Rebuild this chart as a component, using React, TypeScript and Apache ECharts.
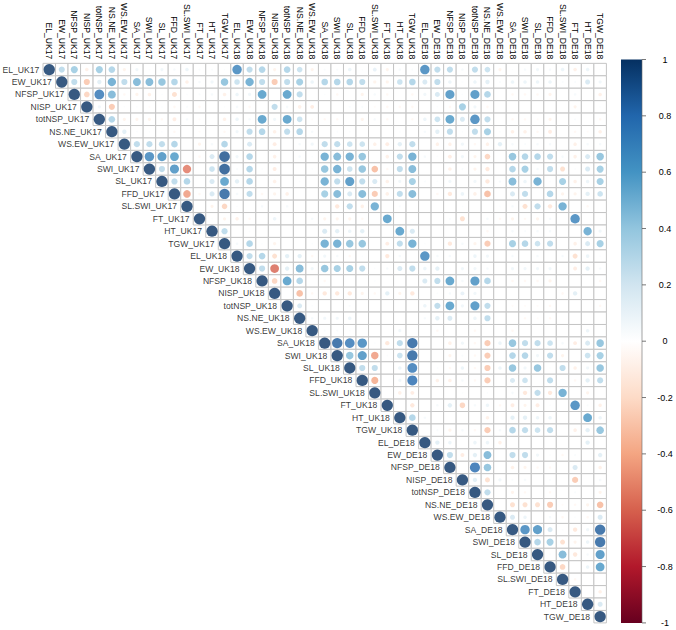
import React, { useEffect, useRef } from "react";
import * as echarts from "echarts";

const variables = [
  "EL_UK17", "EW_UK17", "NFSP_UK17", "NISP_UK17", "totNSP_UK17", "NS.NE_UK17", "WS.EW_UK17",
  "SA_UK17", "SWI_UK17", "SL_UK17", "FFD_UK17", "SL.SWI_UK17", "FT_UK17", "HT_UK17", "TGW_UK17",
  "EL_UK18", "EW_UK18", "NFSP_UK18", "NISP_UK18", "totNSP_UK18", "NS.NE_UK18", "WS.EW_UK18",
  "SA_UK18", "SWI_UK18", "SL_UK18", "FFD_UK18", "SL.SWI_UK18", "FT_UK18", "HT_UK18", "TGW_UK18",
  "EL_DE18", "EW_DE18", "NFSP_DE18", "NISP_DE18", "totNSP_DE18", "NS.NE_DE18", "WS.EW_DE18",
  "SA_DE18", "SWI_DE18", "SL_DE18", "FFD_DE18", "SL.SWI_DE18", "FT_DE18", "HT_DE18", "TGW_DE18",
];

// Upper-triangle correlations: row i lists r(i, j) for j = i+1 .. 44
const rowsUK17: number[][] = [
  [0.3, 0.4, -0.1, 0.4, 0.35, -0.08, 0.08, 0.02, 0.08, 0.05, 0.1, 0.03, 0.03, 0.02,
   0.7, 0.3, 0.35, -0.08, 0.35, 0.25, -0.08, 0.03, 0.03, 0.1, 0.02, 0.12, -0.08, 0.05, 0.03,
   0.7, 0.3, 0.3, 0.05, 0.3, 0.25, -0.08, 0.02, 0.05, 0.08, 0.05, 0.1, -0.1, 0.1, 0.02],
  [0.3, -0.3, 0.15, 0.55, 0.3, 0.5, 0.5, 0.45, 0.35, -0.1, 0.05, 0.08, 0.45,
   0.25, 0.55, 0.3, -0.3, 0.3, 0.4, 0.1, 0.35, 0.35, 0.35, 0.3, -0.08, -0.08, 0.25, 0.35,
   0.2, 0.3, 0.1, 0.02, 0.1, 0.15, 0.03, 0.1, 0.1, 0.1, 0.1, 0.03, 0.03, 0.2, 0.08],
  [-0.25, 0.75, 0.5, -0.05, -0.08, -0.1, 0.02, -0.2, 0.02, 0.03, 0.05, -0.1,
   0.1, 0.08, 0.6, 0, 0.6, 0.3, 0, 0.02, -0.05, 0, -0.08, 0.05, -0.05, 0, -0.05,
   0.08, 0.2, 0.65, 0.02, 0.65, 0.35, 0, -0.05, -0.05, -0.05, -0.08, 0, 0.05, 0, -0.1],
  [0.08, -0.3, 0.02, 0.02, -0.03, 0.02, -0.05, 0.03, -0.05, 0, 0.02,
   0.05, -0.05, 0, 0.3, 0.05, -0.1, -0.12, 0, 0, 0.03, 0.03, -0.03, -0.05, -0.05, -0.05,
   0, 0.02, -0.05, 0.4, 0.08, -0.05, 0, 0, 0, 0, 0, 0, -0.08, 0, 0.02],
  [0.35, -0.08, -0.08, -0.08, -0.05, -0.12, 0.05, -0.03, 0, -0.1,
   0.1, 0.05, 0.6, 0.08, 0.6, 0.25, -0.03, -0.05, -0.05, 0, -0.08, 0.05, -0.05, 0, -0.05,
   0.1, 0.25, 0.6, 0.2, 0.7, 0.3, 0, -0.05, -0.05, -0.03, -0.08, 0, 0.03, 0, -0.05],
  [0.15, 0.02, 0.02, 0.02, -0.05, 0, -0.03, 0, -0.05,
   0.08, 0.3, 0.35, -0.1, 0.3, 0.35, 0.05, 0, 0.02, 0.02, 0, 0, 0, 0.02, 0,
   0.05, 0.15, 0.3, 0.02, 0.3, 0.4, 0.02, -0.1, -0.1, -0.05, -0.12, 0, -0.05, -0.03, -0.1],
  [0.3, 0.3, 0.3, 0.35, 0, -0.08, 0.05, 0.35,
   0, 0.2, 0, -0.12, 0, 0.05, 0.08, 0.3, 0.3, 0.25, 0.25, -0.1, -0.12, 0.15, 0.3,
   0, -0.1, -0.1, 0.08, -0.05, -0.1, 0.15, 0.05, 0.03, 0.05, 0.05, 0, -0.1, 0.05, 0.05],
  [0.7, 0.65, 0.6, 0, -0.05, 0.2, 0.9,
   0.08, 0.35, 0, -0.1, 0, 0.05, 0.02, 0.55, 0.5, 0.55, 0.45, 0, -0.1, 0.3, 0.55,
   0.05, 0.02, -0.12, 0.08, -0.08, -0.25, 0, 0.45, 0.35, 0.35, 0.3, 0.05, -0.1, 0.2, 0.45],
  [0.3, 0.65, -0.55, 0, 0.25, 0.9,
   0.03, 0.35, 0.02, -0.12, 0, 0, 0.02, 0.45, 0.55, 0.25, 0.45, -0.35, -0.05, 0.3, 0.5,
   0, 0, -0.1, 0.03, -0.08, -0.15, 0, 0.35, 0.4, 0.05, 0.3, -0.2, 0.02, 0.2, 0.4],
  [0.3, 0.35, 0, 0.2, 0.6,
   0.15, 0.35, 0, -0.1, 0, 0.02, 0, 0.55, 0.3, 0.65, 0.3, 0.2, -0.1, 0.08, 0.4,
   0.03, 0.02, 0.08, 0, 0.08, -0.15, 0.05, 0.5, 0.1, 0.55, 0.02, 0.4, -0.1, 0.1, 0.4],
  [-0.45, -0.05, 0.2, 0.85,
   0.05, 0.3, -0.05, -0.08, -0.1, 0, 0, 0.4, 0.5, 0.2, 0.5, -0.3, -0.1, 0.3, 0.5,
   0, -0.05, -0.15, 0.1, -0.1, -0.35, 0, 0.2, 0.3, 0, 0.35, -0.08, -0.08, 0.15, 0.25],
  [0, -0.08, -0.25,
   0.02, 0, 0.05, 0, 0.05, 0, 0, 0, -0.15, 0.3, -0.1, 0.55, 0, 0.03, 0,
   0, 0, 0, 0.02, 0, 0, 0.02, 0.05, -0.2, 0.3, -0.15, 0.55, 0, -0.05, 0],
  [0.02, -0.08,
   -0.1, -0.05, 0, 0.1, 0, 0, 0.05, -0.08, -0.08, -0.08, -0.05, 0, 0.6, 0, 0,
   0, 0, 0.03, -0.2, 0, 0.05, -0.05, -0.08, -0.05, -0.08, 0.05, 0, 0.7, 0, 0.02],
  [0.3,
   0, 0.02, 0, 0, 0, 0, 0, 0.2, 0.15, 0.1, 0.15, 0, 0, 0.6, 0.2,
   0, 0, 0, 0, 0, -0.05, 0, 0.05, 0.03, 0.05, 0.05, 0, 0, 0.55, 0.08],
  [0.05, 0.35, 0.02, -0.08, 0, 0, 0.02, 0.55, 0.55, 0.45, 0.45, 0, -0.12, 0.3, 0.55,
   0.02, 0, -0.15, 0.05, -0.08, -0.3, 0, 0.4, 0.35, 0.25, 0.3, 0, -0.1, 0.2, 0.4],
];

const rowsUK18: number[][] = [
  [0.3, 0.35, -0.2, 0.15, 0.15, -0.05, 0.08, 0.05, -0.05, 0.02, 0, -0.15, 0.05, 0,
   0.7, 0.05, 0.05, 0, 0.1, 0.08, 0, 0.05, 0, 0.05, 0, 0.05, -0.2, 0.1, 0.02],
  [0.3, -0.6, 0.15, 0.5, 0.08, 0.45, 0.4, 0.4, 0.3, 0.02, 0.05, 0.2, 0.3,
   0.1, 0.15, 0.02, 0.08, 0.08, 0.05, 0, 0.08, 0.08, 0.08, 0.08, 0, -0.12, 0.15, 0.05],
  [-0.25, 0.6, 0.35, 0, -0.05, 0, 0, 0, 0.02, 0, 0, 0,
   0.2, 0.3, 0.6, 0.05, 0.65, 0.35, 0, -0.05, -0.05, -0.05, -0.08, 0, 0, 0, -0.05],
  [0, -0.35, -0.05, -0.15, -0.15, -0.15, -0.08, -0.05, 0.15, -0.08, -0.15,
   0, 0.02, 0.05, 0.12, 0.08, 0, 0, 0, 0, 0, 0, -0.05, 0.15, 0, 0],
  [0.2, 0.02, 0, 0, 0.03, 0, 0, 0, 0, 0,
   0.1, 0.3, 0.6, 0.08, 0.65, 0.3, 0, -0.03, -0.03, -0.03, -0.05, 0, 0, 0, -0.05],
  [0.05, 0.08, 0.08, 0.1, 0, 0, 0, 0, 0,
   0.05, 0.15, 0.2, 0, 0.1, 0.3, 0, 0, -0.05, -0.03, -0.05, 0, 0, 0, 0],
  [0.03, 0.03, 0.02, 0, 0, 0, 0.08, 0,
   0, -0.05, 0, 0, -0.05, 0, 0, -0.05, 0, 0, 0, 0, 0, 0.1, 0],
  [0.85, 0.75, 0.7, 0.02, -0.15, 0.3, 0.85,
   0, 0, -0.1, 0.08, -0.05, -0.3, 0.1, 0.45, 0.3, 0.3, 0.25, 0.05, -0.12, 0.2, 0.45],
  [0.45, 0.65, -0.45, 0.02, 0.25, 0.85,
   0, 0, -0.08, 0.03, -0.05, -0.3, 0, 0.35, 0.35, 0.08, 0.3, -0.08, 0, 0.25, 0.4],
  [0.3, 0.3, 0, 0.1, 0.75,
   0, 0.02, -0.05, 0.1, -0.05, -0.3, 0.1, 0.45, 0.08, 0.45, 0.02, 0.3, -0.1, 0.08, 0.45],
  [-0.4, 0, 0.08, 0.8,
   0, -0.1, -0.1, 0.05, -0.05, -0.3, 0, 0.2, 0.25, 0, 0.3, 0, -0.05, 0.15, 0.3],
  [0, -0.1, -0.12,
   0, 0, 0, 0.02, 0, 0.02, 0, 0.05, -0.15, 0.3, -0.15, 0.55, 0, -0.08, 0],
  [0, -0.15,
   0, 0.05, 0.15, -0.25, 0.05, 0.1, -0.05, -0.12, -0.08, -0.12, 0.02, 0, 0.7, 0.03, -0.1],
  [0.35,
   0.05, 0, 0, 0, 0, -0.1, 0, 0.15, 0.15, 0.1, 0.1, 0, 0, 0.6, 0.1],
  [0, 0.03, -0.08, 0.05, -0.05, -0.3, 0.05, 0.35, 0.3, 0.25, 0.3, 0, -0.1, 0.15, 0.45],
];

const rowsDE18: number[][] = [
  [0.15, 0.1, 0, 0.1, 0.1, -0.1, 0, 0, 0, 0, 0, 0, 0.15, 0],
  [0.3, -0.12, 0.15, 0.5, 0, 0.3, 0.3, 0.08, 0.02, -0.05, 0.03, 0, 0.15],
  [0, 0.8, 0.45, 0, -0.1, -0.08, -0.05, -0.05, 0, 0.2, 0, -0.1],
  [0.15, -0.2, 0.08, 0.03, 0.05, 0, 0.03, 0, -0.3, 0, 0.05],
  [0.3, 0, -0.08, -0.05, 0, -0.05, 0, 0.03, 0, -0.08],
  [0, -0.2, -0.2, -0.2, -0.3, -0.03, -0.05, -0.08, -0.35],
  [0.2, 0.1, 0, 0.05, -0.05, 0.02, -0.05, 0.2],
  [0.7, 0.65, 0.2, 0.02, -0.15, 0.08, 0.85],
  [0.35, 0.4, -0.2, -0.08, 0.1, 0.85],
  [0.02, 0.5, -0.15, 0.05, 0.65],
  [-0.25, 0, 0.1, 0.6],
  [-0.05, 0, 0],
  [0, -0.1],
  [0.2],
  [],
];

const colorbarTicks = [1, 0.8, 0.6, 0.4, 0.2, 0, -0.2, -0.4, -0.6, -0.8, -1];
const paletteStops = [
  "#67001F", "#B2182B", "#D6604D", "#F4A582", "#FDDBC7", "#FFFFFF",
  "#D1E5F0", "#92C5DE", "#4393C3", "#2166AC", "#053061",
];

const FONT = "'Liberation Sans', Arial, Helvetica, sans-serif";
const LABEL_SIZE = 8.6;
const GRID_LEFT = 43;
const GRID_TOP = 59.5;
const CELL = 12.52;
const N = variables.length;
const GRID_SIZE = CELL * N;

function hexToRgb(h: string) {
  const v = parseInt(h.slice(1), 16);
  return [(v >> 16) & 255, (v >> 8) & 255, v & 255];
}
function colorFor(v: number) {
  const t = ((v + 1) / 2) * (paletteStops.length - 1);
  const i = Math.max(0, Math.min(Math.floor(t), paletteStops.length - 2));
  const f = t - i;
  const a = hexToRgb(paletteStops[i]);
  const b = hexToRgb(paletteStops[i + 1]);
  const c = a.map((x, k) => Math.round(x + (b[k] - x) * f));
  return `rgb(${c[0]},${c[1]},${c[2]})`;
}

export default function App() {
  const ref = useRef<HTMLDivElement>(null);
  useEffect(() => {
    if (!ref.current) return;
    const chart = echarts.init(ref.current, null, { renderer: "svg" });
    const allRows = [...rowsUK17, ...rowsUK18, ...rowsDE18];
    const cells: number[][] = [];
    const points: any[] = [];
    for (let i = 0; i < N; i++) {
      for (let j = i; j < N; j++) {
        cells.push([j, i]);
        const v = i === j ? 1 : allRows[i][j - i - 1];
        points.push({ value: [j, i, v], itemStyle: { color: colorFor(v) } });
      }
    }
    const rowLabels = variables.map((name, i) => ({ value: [i, i], name }));

    const barX = 621;
    const barW = 21;
    const barTop = GRID_TOP;
    const barH = GRID_SIZE;
    const graphics: any[] = [
      {
        type: "rect",
        shape: { x: barX, y: barTop, width: barW, height: barH },
        style: {
          fill: new echarts.graphic.LinearGradient(0, 0, 0, 1,
            paletteStops.slice().reverse().map((c, k) => ({ offset: k / (paletteStops.length - 1), color: c }))),
        },
      },
      {
        type: "line",
        shape: { x1: barX + barW, y1: barTop, x2: barX + barW, y2: barTop + barH },
        style: { stroke: "#666", lineWidth: 0.6 },
      },
    ];
    colorbarTicks.forEach((t) => {
      const y = barTop + ((1 - t) / 2) * barH;
      graphics.push({
        type: "line",
        shape: { x1: barX + barW, y1: y, x2: barX + barW + 4, y2: y },
        style: { stroke: "#555", lineWidth: 0.8 },
      });
      graphics.push({
        type: "text",
        x: 665,
        y,
        style: {
          text: String(t),
          font: `9px ${FONT}`,
          fill: "#000",
          textAlign: "center",
          textVerticalAlign: "middle",
        },
      });
    });

    chart.setOption({
      animation: false,
      grid: { left: GRID_LEFT, top: GRID_TOP, width: GRID_SIZE, height: GRID_SIZE },
      xAxis: {
        type: "category",
        data: variables,
        position: "top",
        axisLine: { show: false },
        axisTick: { show: false },
        splitLine: { show: false },
        axisLabel: { rotate: 90, interval: 0, fontSize: LABEL_SIZE, fontFamily: FONT, color: "#000", margin: 4 },
      },
      yAxis: {
        type: "category",
        data: variables,
        inverse: true,
        axisLine: { show: false },
        axisTick: { show: false },
        axisLabel: { show: false },
        splitLine: { show: false },
      },
      series: [
        {
          type: "custom",
          data: cells,
          renderItem: (params: any, api: any) => {
            const c = api.coord([api.value(0), api.value(1)]);
            const s = api.size([1, 1]);
            return {
              type: "rect",
              shape: { x: c[0] - s[0] / 2, y: c[1] - s[1] / 2, width: s[0], height: s[1] },
              style: { fill: "#fff", stroke: "#c4c4c4", lineWidth: 1 },
            };
          },
          silent: true,
          z: 1,
        },
        {
          type: "scatter",
          data: points,
          symbol: "circle",
          symbolSize: (val: number[]) => 0.9 * CELL * Math.sqrt(Math.abs(val[2])),
          z: 2,
        },
        {
          type: "scatter",
          data: rowLabels,
          symbolSize: 1,
          itemStyle: { color: "rgba(0,0,0,0)" },
          label: {
            show: true,
            position: "left",
            distance: 9.5,
            formatter: (p: any) => p.name,
            fontSize: LABEL_SIZE,
            fontFamily: FONT,
            color: "#000",
          },
          z: 3,
        },
      ],
      graphic: graphics,
    });
    return () => chart.dispose();
  }, []);
  return (
    <div
      ref={ref}
      style={{ position: "absolute", left: 0, top: 0, width: 676, height: 630, background: "#fff" }}
    />
  );
}
